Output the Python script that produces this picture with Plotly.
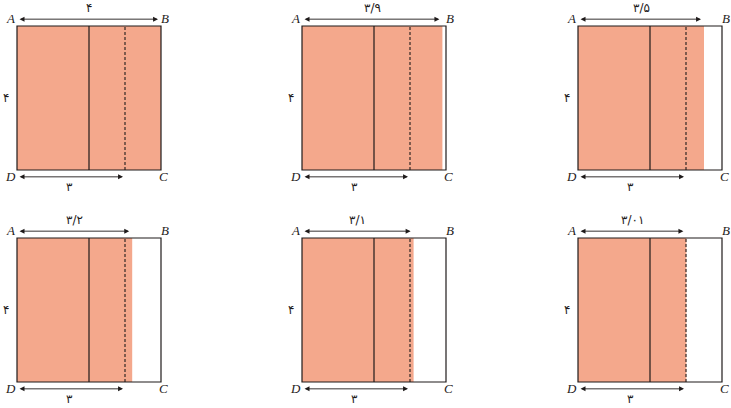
import plotly.graph_objects as go

# ---- data ----
widths = [4, 3.9, 3.5, 3.2, 3.1, 3.01]
top_labels = ["۴", "۳/۹", "۳/۵", "۳/۲", "۳/۱", "۳/۰۱"]
side = 4
solid_x = 2
dashed_x = 3
bottom_len = 3
bottom_label = "۳"
side_label = "۴"
corner_labels = ["A", "B", "C", "D"]

# ---- layout geometry (pixels) ----
W, H = 731, 408
scale = 36.0
sq_left = [17, 302, 578]
sq_top = [26, 238]
xr = [-0.45, 4.2]
yr = [-0.7, 4.65]

FILL = "#F4A88C"
INK = "#1E1A1A"
DIGIT_FONT = dict(family="DejaVu Sans", size=12, color=INK)
LETTER_FONT = dict(family="Liberation Serif", size=13, color=INK)

fig = go.Figure()
shapes = []
annotations = []
layout_axes = {}

for i, (w, lab) in enumerate(zip(widths, top_labels)):
    r, c = divmod(i, 3)
    n = "" if i == 0 else str(i + 1)
    xa, ya = "x" + n, "y" + n
    x0px = sq_left[c] + xr[0] * scale
    x1px = sq_left[c] + xr[1] * scale
    ybot = sq_top[r] + side * scale - yr[0] * scale
    ytop = sq_top[r] + side * scale - yr[1] * scale
    layout_axes["xaxis" + n] = dict(domain=[x0px / W, x1px / W], range=xr,
                                    visible=False, anchor=ya, fixedrange=True)
    layout_axes["yaxis" + n] = dict(domain=[1 - ybot / H, 1 - ytop / H], range=yr,
                                    visible=False, anchor=xa, fixedrange=True)
    # filled rectangle
    shapes.append(dict(type="rect", xref=xa, yref=ya, x0=0, x1=w, y0=0, y1=side,
                       fillcolor=FILL, line=dict(width=0), layer="below"))
    # square outline
    shapes.append(dict(type="rect", xref=xa, yref=ya, x0=0, x1=side, y0=0, y1=side,
                       fillcolor="rgba(0,0,0,0)", line=dict(color=INK, width=1.2)))
    # solid and dashed lines
    shapes.append(dict(type="line", xref=xa, yref=ya, x0=solid_x, x1=solid_x, y0=0, y1=side,
                       line=dict(color=INK, width=1.2)))
    shapes.append(dict(type="line", xref=xa, yref=ya, x0=dashed_x, x1=dashed_x, y0=0, y1=side,
                       line=dict(color=INK, width=1.1, dash="3px,2px")))
    # top arrow
    annotations.append(dict(xref=xa, yref=ya, axref=xa, ayref=ya, x=w, y=side + 0.19,
                            ax=0.03, ay=side + 0.19, text="", showarrow=True,
                            arrowside="end+start", arrowhead=2, arrowsize=1.1,
                            arrowwidth=0.9, arrowcolor=INK, standoff=3))
    annotations.append(dict(xref=xa, yref=ya, x=w / 2, y=side + 0.5, text=lab,
                            showarrow=False, font=DIGIT_FONT))
    # bottom arrow
    annotations.append(dict(xref=xa, yref=ya, axref=xa, ayref=ya, x=bottom_len, y=-0.19,
                            ax=0.03, ay=-0.19, text="", showarrow=True,
                            arrowside="end+start", arrowhead=2, arrowsize=1.1,
                            arrowwidth=0.9, arrowcolor=INK, standoff=2))
    annotations.append(dict(xref=xa, yref=ya, x=bottom_len / 2 - 0.05, y=-0.46, text=bottom_label,
                            showarrow=False, font=DIGIT_FONT))
    # side label
    annotations.append(dict(xref=xa, yref=ya, x=-0.31, y=side / 2, text=side_label,
                            showarrow=False, font=DIGIT_FONT))
    # corner letters
    for letter, (lx, ly) in zip(corner_labels, [(-0.19, side + 0.22), (side + 0.1, side + 0.22),
                                                 (side + 0.08, -0.19), (-0.19, -0.17)]):
        annotations.append(dict(xref=xa, yref=ya, x=lx, y=ly, text="<i>" + letter + "</i>",
                                showarrow=False, font=LETTER_FONT))

fig.update_layout(width=W, height=H, margin=dict(l=0, r=0, t=0, b=0),
                  paper_bgcolor="white", plot_bgcolor="white", showlegend=False,
                  shapes=shapes, annotations=annotations, **layout_axes)

fig.write_html("out.html", config={"displayModeBar": False},
               post_script="document.body.style.margin='0';document.body.style.overflow='hidden';")
